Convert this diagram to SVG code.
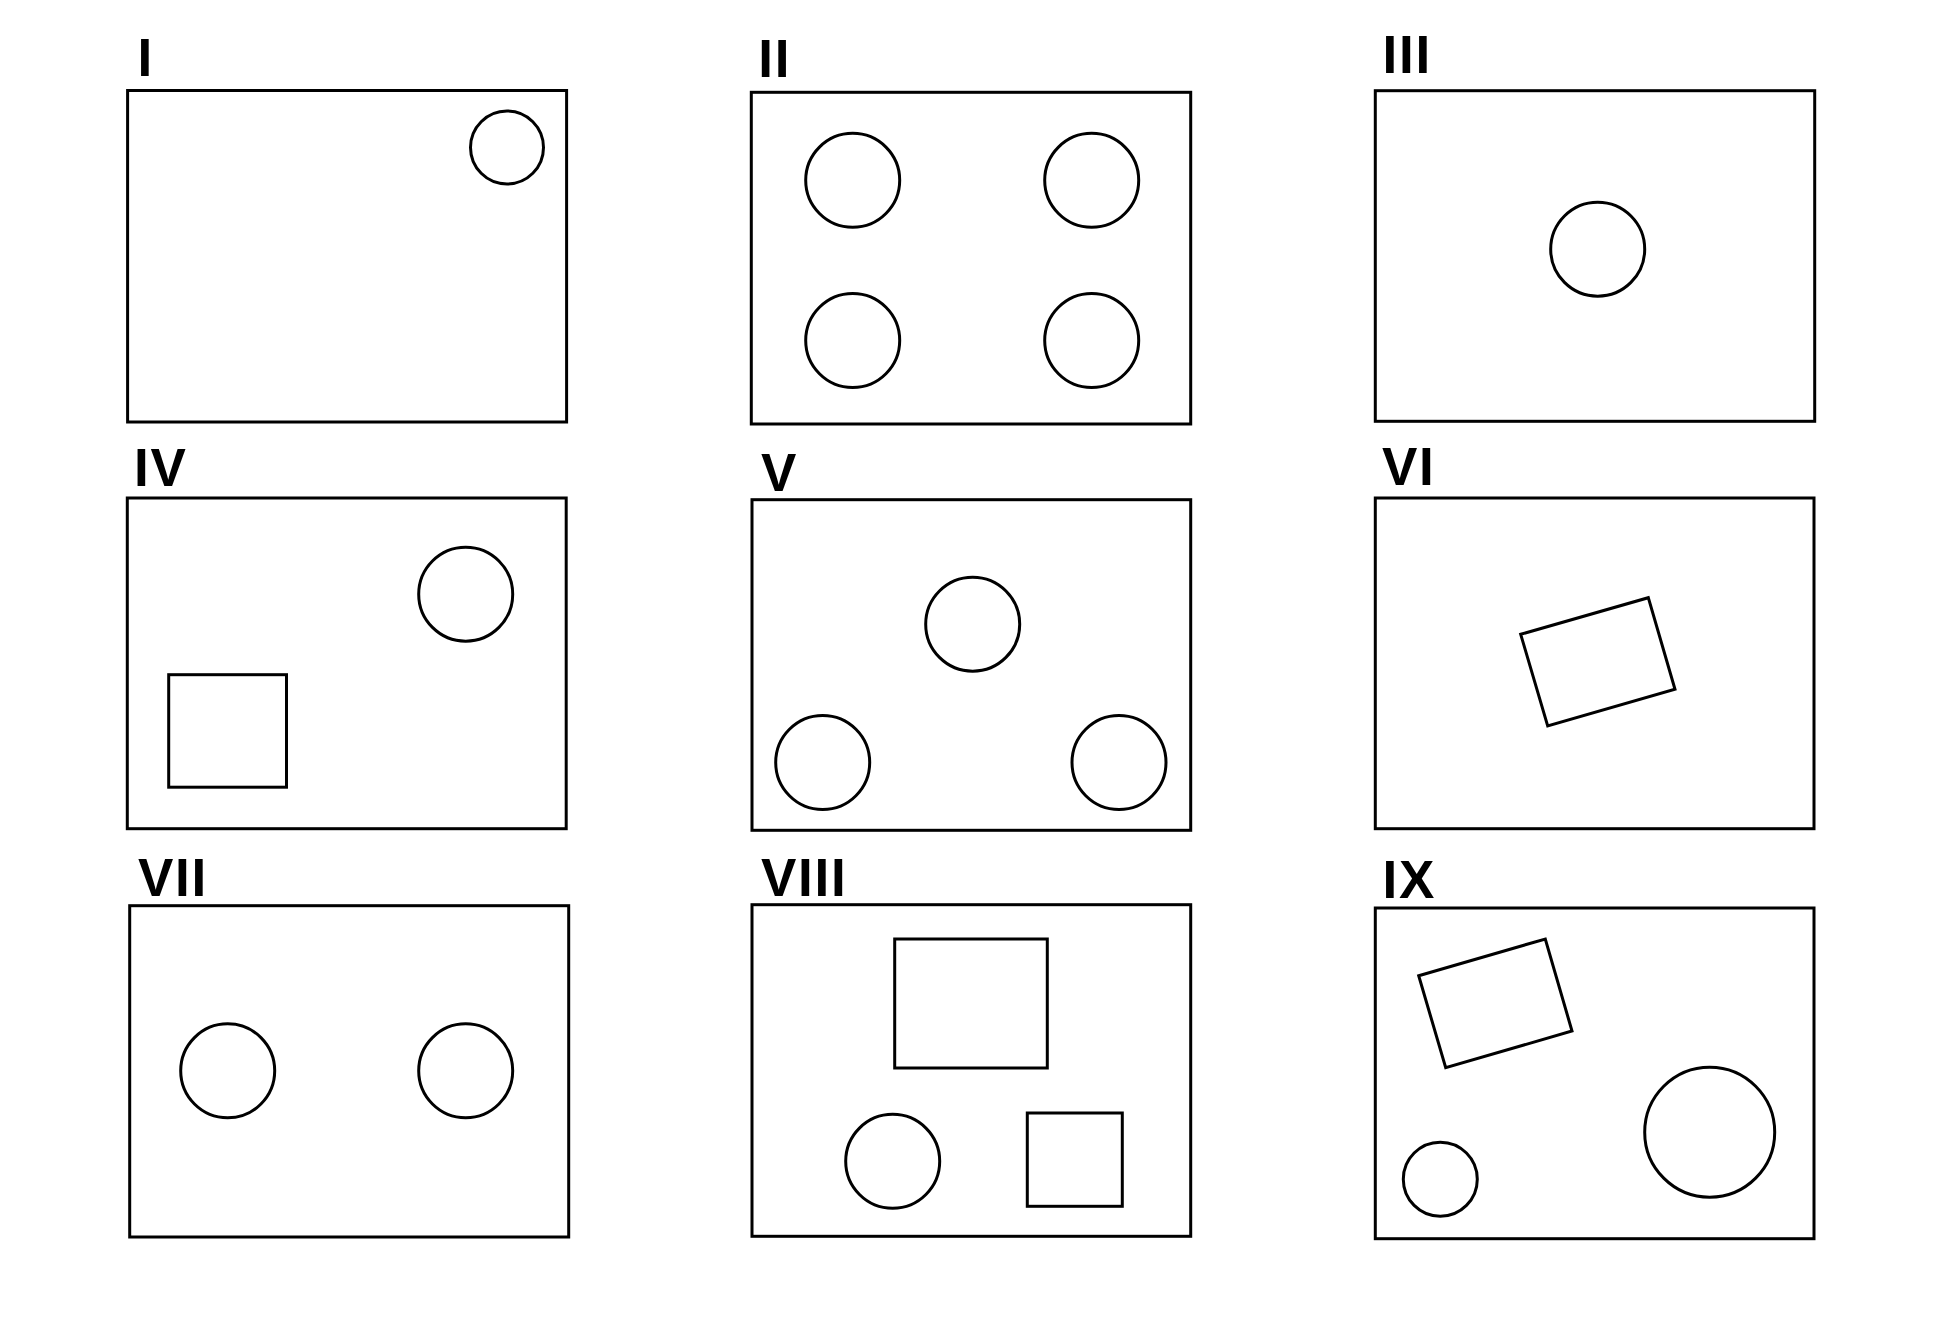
<svg xmlns="http://www.w3.org/2000/svg" width="1943" height="1338" viewBox="0 0 1943 1338">
<style>
.frame{fill:none;stroke:#000;stroke-width:3}
.shape{fill:none;stroke:#000;stroke-width:3}
.lbl{font-family:"Liberation Sans",Arial,sans-serif;font-weight:bold;font-size:53px;letter-spacing:1.7px;fill:#000}
</style>
<rect width="1943" height="1338" fill="#fff"/>
<g id="panel-I">
<text class="lbl" x="137.5" y="76">I</text>
<rect class="frame" x="127.6" y="90.5" width="439" height="331.5"/>
<circle class="shape" cx="507" cy="147.5" r="36.5"/>
</g>
<g id="panel-II">
<text class="lbl" x="758.3" y="76.5">II</text>
<rect class="frame" x="751.3" y="92.3" width="439.4" height="331.7"/>
<circle class="shape" cx="852.7" cy="180.3" r="47"/>
<circle class="shape" cx="1091.7" cy="180.3" r="47"/>
<circle class="shape" cx="852.7" cy="340.5" r="47"/>
<circle class="shape" cx="1091.7" cy="340.5" r="47"/>
</g>
<g id="panel-III">
<text class="lbl" x="1382.6" y="72.7">III</text>
<rect class="frame" x="1375.3" y="90.7" width="439.4" height="330.6"/>
<circle class="shape" cx="1597.7" cy="249.2" r="47"/>
</g>
<g id="panel-IV">
<text class="lbl" x="134" y="486">IV</text>
<rect class="frame" x="127.3" y="498" width="438.9" height="330.7"/>
<circle class="shape" cx="465.7" cy="594.2" r="47"/>
<rect class="shape" x="168.7" y="674.7" width="117.8" height="112.5"/>
</g>
<g id="panel-V">
<text class="lbl" x="761" y="491">V</text>
<rect class="frame" x="752" y="499.7" width="438.7" height="330.6"/>
<circle class="shape" cx="972.7" cy="624.2" r="47"/>
<circle class="shape" cx="822.7" cy="762.5" r="47"/>
<circle class="shape" cx="1119" cy="762.5" r="47"/>
</g>
<g id="panel-VI">
<text class="lbl" x="1382" y="485">VI</text>
<rect class="frame" x="1375.3" y="498" width="438.7" height="330.7"/>
<polygon class="shape" points="1520.7,634.3 1648.3,597.7 1675,689.3 1547.7,726"/>
</g>
<g id="panel-VII">
<text class="lbl" x="138" y="896">VII</text>
<rect class="frame" x="129.7" y="905.7" width="439" height="331.3"/>
<circle class="shape" cx="227.7" cy="1070.8" r="47"/>
<circle class="shape" cx="465.7" cy="1070.8" r="47"/>
</g>
<g id="panel-VIII">
<text class="lbl" x="761" y="896">VIII</text>
<rect class="frame" x="752" y="904.7" width="438.7" height="331.6"/>
<rect class="shape" x="894.7" y="939" width="152.6" height="129"/>
<circle class="shape" cx="892.7" cy="1161.3" r="47"/>
<rect class="shape" x="1027.3" y="1113" width="95" height="93.3"/>
</g>
<g id="panel-IX">
<text class="lbl" x="1382.6" y="898">IX</text>
<rect class="frame" x="1375.3" y="908" width="438.7" height="330.7"/>
<polygon class="shape" points="1418.7,975.7 1545.3,939 1572,1031 1445.7,1067.7"/>
<circle class="shape" cx="1440.3" cy="1179.2" r="37"/>
<circle class="shape" cx="1709.7" cy="1132.2" r="65"/>
</g>
</svg>
